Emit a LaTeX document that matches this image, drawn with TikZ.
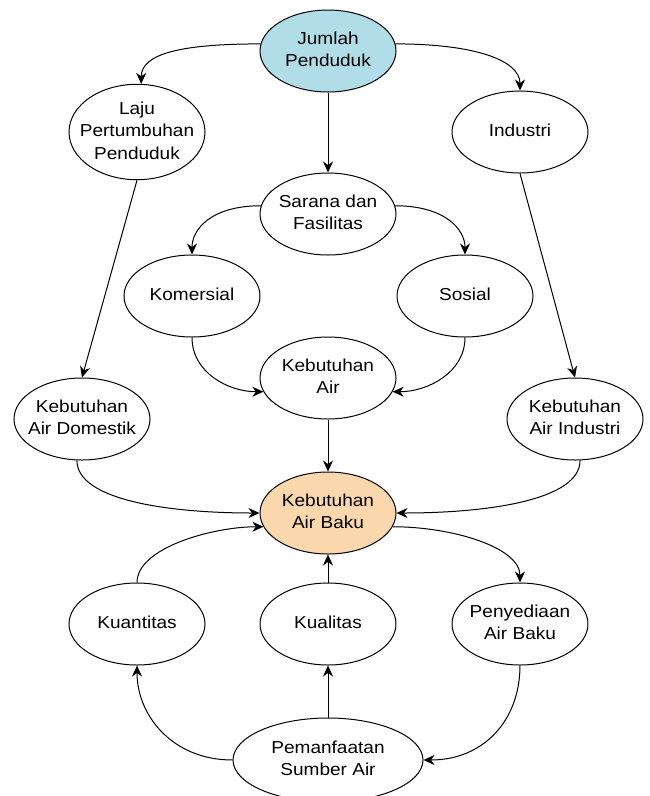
\documentclass[tikz,border=0pt]{standalone}
\usepackage{fontspec}
\setmainfont{Liberation Sans}[FakeStretch=1.1]
\usetikzlibrary{arrows.meta,shapes.geometric}
\definecolor{popblue}{RGB}{177,221,232}
\definecolor{peach}{RGB}{250,215,172}
\newcommand\lbl[1]{\makebox[0pt]{\fontsize{17.3}{22.5}\selectfont\begin{tabular}{@{}c@{}}#1\end{tabular}}}
\begin{document}
\begin{tikzpicture}[x=1pt,y=-1pt,
  bub/.style={ellipse,draw,line width=1pt,minimum width=136pt,minimum height=82pt,inner sep=0pt,fill=white},
  link/.style={line width=1pt,-{Stealth[length=11pt,width=10pt,inset=3.5pt]}}]
\fill[white] (0,0) rectangle (649,796);
\useasboundingbox (0,0) rectangle (649,796);
\node[bub,fill=popblue] (J) at (328,51) {\lbl{Jumlah\\Penduduk}};
\node[bub] (L) at (137,132) {\lbl{Laju\\Pertumbuhan\\Penduduk}};
\node[bub] (I) at (520,132) {\lbl{Industri}};
\node[bub] (S) at (328,214) {\lbl{Sarana dan\\Fasilitas}};
\node[bub] (Ko) at (192,296) {\lbl{Komersial}};
\node[bub] (So) at (465,296) {\lbl{Sosial}};
\node[bub] (KA) at (328,378) {\lbl{Kebutuhan\\Air}};
\node[bub] (D) at (82,419) {\lbl{Kebutuhan\\Air Domestik}};
\node[bub] (AI) at (575,419) {\lbl{Kebutuhan\\Air Industri}};
\node[bub,fill=peach] (B) at (328,513) {\lbl{Kebutuhan\\Air Baku}};
\node[bub] (Kn) at (137,624) {\lbl{Kuantitas}};
\node[bub] (Kl) at (328,624) {\lbl{Kualitas}};
\node[bub] (P) at (520,624) {\lbl{Penyediaan\\Air Baku}};
\node[bub,minimum width=190pt,minimum height=84pt] (Pm) at (328,760) {\lbl{Pemanfaatan\\Sumber Air}};
\draw[link] (J.174) .. controls +(-80,0) and +(0,-30) .. (L.85);
\draw[link] (J.6) .. controls +(80,0) and +(0,-30) .. (I.north);
\draw[link] (J.south) -- (S.north);
\draw[link] (S.173) .. controls +(-50,0) and +(0,-25) .. (Ko.north);
\draw[link] (S.7) .. controls +(50,0) and +(0,-25) .. (So.north);
\draw[link] (L.south) -- (D.north);
\draw[link] (I.south) -- (AI.north);
\draw[link] (Ko.south) .. controls +(0,35) and +(-35,0) .. (KA.192);
\draw[link] (So.south) .. controls +(0,35) and +(35,0) .. (KA.348);
\draw[link] (KA.south) -- (B.north);
\draw[link] (D.263) .. controls +(0,40) and +(-90,0) .. (B.west);
\draw[link] (AI.277) .. controls +(0,40) and +(90,0) .. (B.east);
\draw[link] (Kn.north) .. controls +(0,-35) and +(-50,0) .. (B.192);
\draw[link] (B.348) .. controls +(60,0) and +(0,-35) .. (P.north);
\draw[link] (Kl.north) -- (B.south);
\draw[link] (Pm.north) -- (Kl.south);
\draw[link] (Pm.west) .. controls +(-60,0) and +(0,50) .. (Kn.south);
\draw[link] (P.south) .. controls +(0,55) and +(60,0) .. (Pm.east);
\end{tikzpicture}
\end{document}
